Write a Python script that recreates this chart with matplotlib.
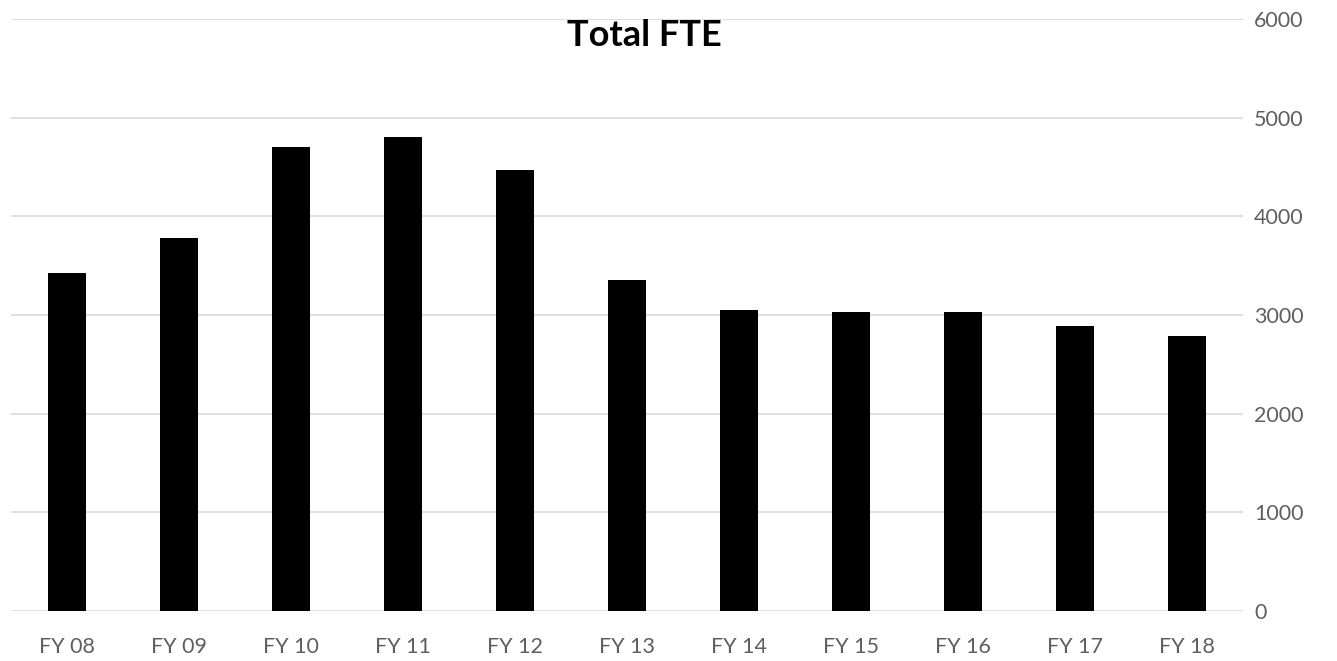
import matplotlib
matplotlib.use("Agg")
import matplotlib.pyplot as plt

categories = ["FY 08", "FY 09", "FY 10", "FY 11", "FY 12", "FY 13",
              "FY 14", "FY 15", "FY 16", "FY 17", "FY 18"]
fte = [3426, 3780, 4700, 4807, 4470, 3354, 3047, 3034, 3034, 2894, 2787]
yticks = [0, 1000, 2000, 3000, 4000, 5000, 6000]

plt.rcParams['font.family'] = ['Lato', 'DejaVu Sans']

fig = plt.figure(figsize=(13.37, 6.61), dpi=100)
ax = fig.add_axes([0.0082, 0.0756, 0.9215, 0.8954])

x = list(range(len(categories)))
ax.bar(x, fte, width=0.335, color="black", zorder=3)

ax.set_xlim(-0.5, len(categories) - 0.5)
ax.set_ylim(0, 6000)
ax.set_yticks(yticks)
ax.set_yticklabels([str(v) for v in yticks])
ax.yaxis.tick_right()
ax.set_xticks(x)
ax.set_xticklabels(categories)
ax.tick_params(axis='both', length=0, labelsize=15.5, colors="#5f5f5f")
ax.tick_params(axis='y', pad=8)
ax.tick_params(axis='x', pad=19)
ax.grid(axis='y', color="#d9d9d9", linewidth=1.2, zorder=0)
for s in ax.spines.values():
    s.set_visible(False)

fig.text(644 / 1337, 1 - 36 / 661, "Total FTE", ha="center", va="center",
         fontsize=26, fontweight="bold", color="black")

fig.savefig("out.png", dpi=100, facecolor="white")
